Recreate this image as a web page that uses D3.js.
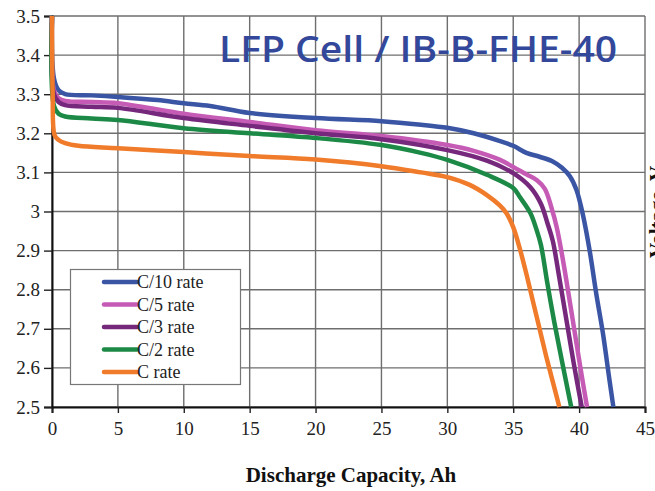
<!DOCTYPE html>
<html>
<head>
<meta charset="utf-8">
<script src="https://cdn.jsdelivr.net/npm/d3@7"></script>
<style>
  body { margin: 0; background: #fff; }
  svg { display: block; }
</style>
</head>
<body>
<div id="chart"></div>
<script>
// discharge curves
let seriesNames = ['C/10 rate', 'C/5 rate', 'C/3 rate', 'C/2 rate', 'C rate'];
let seriesColors = ['#3b55a5', '#c65bb6', '#76297c', '#1c8a46', '#f07b2a'];

let capC10 = [0, 0.15, 0.5, 1, 3, 5, 8, 10, 12, 15, 20, 25, 28, 30, 32, 34, 35, 36, 37, 38, 38.7, 39.3, 39.8, 40.3, 40.8, 41.3, 41.8, 42.3, 42.6];
let voltC10 = [3.5, 3.34, 3.31, 3.30, 3.297, 3.293, 3.285, 3.277, 3.27, 3.252, 3.239, 3.231, 3.222, 3.214, 3.20, 3.18, 3.168, 3.15, 3.14, 3.128, 3.112, 3.09, 3.055, 2.99, 2.90, 2.79, 2.69, 2.57, 2.5];

let capC5 = [0, 0.15, 0.5, 1, 3, 5, 10, 15, 20, 25, 30, 32, 34, 35, 36, 36.8, 37.4, 37.9, 38.3, 38.7, 39.1, 39.6, 40.1, 40.6];
let voltC5 = [3.5, 3.31, 3.29, 3.283, 3.28, 3.277, 3.25, 3.229, 3.208, 3.193, 3.17, 3.155, 3.132, 3.114, 3.095, 3.08, 3.058, 3.01, 2.96, 2.89, 2.81, 2.705, 2.60, 2.5];

let capC3 = [0, 0.15, 0.5, 1, 3, 5, 10, 15, 20, 25, 30, 33, 35, 36.3, 37.1, 37.6, 38, 38.5, 39.1, 39.6, 40.2];
let voltC3 = [3.5, 3.30, 3.28, 3.272, 3.268, 3.265, 3.239, 3.219, 3.20, 3.185, 3.157, 3.13, 3.098, 3.062, 3.02, 2.97, 2.925, 2.83, 2.71, 2.61, 2.5];

let capC2 = [0, 0.15, 0.5, 1, 3, 5, 10, 15, 20, 25, 28, 30, 33, 35, 35.5, 36.3, 36.8, 37.1, 37.6, 38.1, 38.7, 39.4];
let voltC2 = [3.5, 3.27, 3.25, 3.243, 3.238, 3.234, 3.213, 3.20, 3.188, 3.17, 3.15, 3.132, 3.094, 3.06, 3.037, 2.996, 2.95, 2.915, 2.815, 2.72, 2.617, 2.5];

let capC1 = [0, 0.05, 0.2, 0.5, 1, 2, 5, 10, 15, 20, 25, 28, 30, 31.7, 33, 34, 34.5, 35, 35.5, 36, 36.5, 37, 37.5, 38, 38.5];
let voltC1 = [3.5, 3.3, 3.195, 3.183, 3.175, 3.168, 3.162, 3.152, 3.142, 3.133, 3.116, 3.10, 3.088, 3.068, 3.042, 3.015, 2.995, 2.96, 2.905, 2.84, 2.77, 2.70, 2.63, 2.565, 2.5];

let xTicks = [0, 5, 10, 15, 20, 25, 30, 35, 40, 45];
let yTicks = [2.5, 2.6, 2.7, 2.8, 2.9, 3.0, 3.1, 3.2, 3.3, 3.4, 3.5];

let svgWidth = 655;
let svgHeight = 491;
let margin = { top: 16, right: 10, bottom: 84, left: 52 };
let width = svgWidth - margin.left - margin.right;
let height = svgHeight - margin.top - margin.bottom;
let serif = '"Liberation Serif", "Times New Roman", Times, serif';

let svg = d3.select('#chart')
    .append('svg')
    .attr('width', svgWidth)
    .attr('height', svgHeight);

let chartgroup = svg.append('g')
    .attr('transform', `translate(${margin.left},${margin.top})`);

let xScale = d3.scaleLinear().domain([0, 45]).range([0, width]);
let yScale = d3.scaleLinear().domain([2.5, 3.5]).range([height, 0]);

// grid
chartgroup.append('g')
    .selectAll('line')
    .data(xTicks)
    .enter()
    .append('line')
    .attr('x1', d => xScale(d)).attr('x2', d => xScale(d))
    .attr('y1', 0).attr('y2', height)
    .attr('stroke', '#6e6e6e')
    .attr('stroke-width', 1.4);

chartgroup.append('g')
    .selectAll('line')
    .data(yTicks)
    .enter()
    .append('line')
    .attr('x1', 0).attr('x2', width)
    .attr('y1', d => yScale(d)).attr('y2', d => yScale(d))
    .attr('stroke', '#6e6e6e')
    .attr('stroke-width', 1.4);

// axes
let BAxis = d3.axisBottom(xScale).tickValues(xTicks).tickSize(6).tickPadding(9);
let LAxis = d3.axisLeft(yScale).tickValues(yTicks).tickSize(8).tickPadding(4)
    .tickFormat(d => String(+d.toFixed(1)));

let XAxis = chartgroup.append('g')
    .attr('transform', `translate(0, ${height})`)
    .call(BAxis);
let YAxis = chartgroup.append('g')
    .call(LAxis);

[XAxis, YAxis].forEach(function (ax) {
    ax.attr('font-family', null).attr('font-size', null);
    ax.select('.domain').attr('stroke', '#111').attr('stroke-width', 2);
    ax.selectAll('.tick line').attr('stroke', '#222').attr('stroke-width', 1.4);
    ax.selectAll('text')
        .style('font-family', serif)
        .style('font-size', '19px')
        .attr('fill', '#222');
});

// curves
let caps = [capC10, capC5, capC3, capC2, capC1];
let volts = [voltC10, voltC5, voltC3, voltC2, voltC1];

let line = d3.line()
    .x(d => xScale(d[0]))
    .y(d => yScale(d[1]))
    .curve(d3.curveCatmullRom.alpha(0.5));

caps.forEach(function (cap, i) {
    let pts = cap.map((c, j) => [c, volts[i][j]]);
    chartgroup.append('path')
        .datum(pts)
        .attr('d', line)
        .attr('fill', 'none')
        .attr('stroke', seriesColors[i])
        .attr('stroke-width', 4.5)
        .attr('stroke-linejoin', 'round')
        .attr('stroke-linecap', 'butt');
});

// title inside the plot
svg.append('text')
    .attr('x', 219)
    .attr('y', 62)
    .style('font-family', '"Open Sans", sans-serif')
    .style('font-weight', 600)
    .style('font-size', '36px')
    .attr('fill', '#33489a')
    .attr('textLength', 398)
    .attr('lengthAdjust', 'spacingAndGlyphs')
    .text('LFP Cell / IB-B-FHE-40');

// legend
let legend = svg.append('g');
legend.append('rect')
    .attr('x', 70.5).attr('y', 269.5)
    .attr('width', 170).attr('height', 115)
    .attr('fill', '#fff')
    .attr('stroke', '#777')
    .attr('stroke-width', 1.2);

let legendY = d3.scalePoint().domain(seriesNames).range([282, 372]);
seriesNames.forEach(function (name, i) {
    legend.append('line')
        .attr('x1', 104).attr('x2', 137)
        .attr('y1', legendY(name)).attr('y2', legendY(name))
        .attr('stroke', seriesColors[i])
        .attr('stroke-width', 4.5)
        .attr('stroke-linecap', 'round');
    legend.append('text')
        .attr('x', 137)
        .attr('y', legendY(name))
        .attr('dy', '0.35em')
        .style('font-family', serif)
        .style('font-size', '18px')
        .attr('fill', '#222')
        .text(name);
});

// axis titles
svg.append('text')
    .attr('x', 351)
    .attr('y', 482)
    .attr('text-anchor', 'middle')
    .style('font-family', serif)
    .style('font-weight', 'bold')
    .style('font-size', '21px')
    .attr('fill', '#111')
    .text('Discharge Capacity, Ah');

// y title, mostly cut off by the right edge as in the source image
svg.append('text')
    .attr('transform', 'translate(664, 212) rotate(-90)')
    .attr('text-anchor', 'middle')
    .style('font-family', serif)
    .style('font-weight', 'bold')
    .style('font-size', '21px')
    .attr('fill', '#111')
    .text('Voltage, V');
</script>
</body>
</html>
